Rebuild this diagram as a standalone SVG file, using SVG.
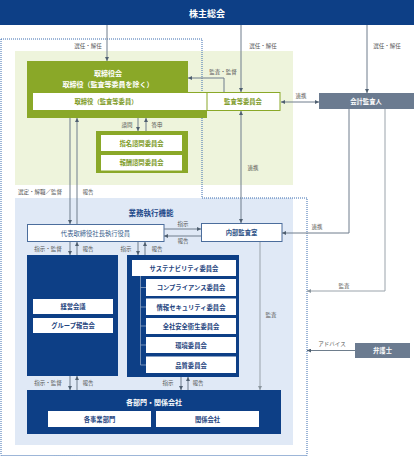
<svg xmlns="http://www.w3.org/2000/svg" width="414" height="457" viewBox="0 0 414 457">
<defs>
<marker id="ah" viewBox="0 0 6 6" refX="6" refY="3" markerWidth="4" markerHeight="4" markerUnits="userSpaceOnUse" orient="auto-start-reverse"><path d="M0,0 L6,3 L0,6 z" fill="#4f5f70"/></marker>
<marker id="ahl" viewBox="0 0 6 6" refX="6" refY="3" markerWidth="4" markerHeight="4" markerUnits="userSpaceOnUse" orient="auto-start-reverse"><path d="M0,0 L6,3 L0,6 z" fill="#8c979f"/></marker>
</defs>
<style>
text{font-family:"Noto Sans CJK JP","Noto Sans",sans-serif;text-anchor:middle;dominant-baseline:central}
.lbl{font-size:5.5px;fill:#555}
.wt{fill:#fff;font-weight:bold}
.ot{fill:#7d9a1f;font-size:6.3px;font-weight:bold}
.bt{fill:#1f4580;font-size:6.3px;font-weight:bold}
.wb{fill:#fff}
.ln{stroke:#6e7d8c;stroke-width:1;fill:none}
.lnl{stroke:#9aa3ab;stroke-width:1;fill:none}
.navy{fill:#0d3f86}
.olive{fill:#8aa828}
.slate{fill:#6b7b90}
</style>
<rect width="414" height="457" fill="#fff"/>
<!-- regions -->
<rect x="15" y="51" width="278" height="134" fill="#eef4dc"/>
<rect x="15" y="198" width="278" height="247" fill="#e0e9f6"/>
<path d="M1,39 H202 V198 H307 V455.5 H1 Z" fill="none" stroke="#3a6db0" stroke-width="1" stroke-dasharray="1 1"/>

<g id="kabunushi">
<rect x="0" y="0" width="414" height="25" class="navy"/>
<text x="207" y="13" class="wt" font-size="9">株主総会</text>
</g>

<g id="torishimariyakukai">
<path d="M27,61 H188 V92 H207 V118 H27 Z" class="olive"/>
<text x="108" y="73" class="wt" font-size="7">取締役会</text>
<text x="108" y="84" class="wt" font-size="7">取締役（監査等委員を除く）</text>
<rect x="33" y="93" width="174" height="17" class="wb"/>
<text x="106" y="101.5" class="ot">取締役（監査等委員）</text>
</g>

<g id="kansatou">
<rect x="207" y="92.5" width="73" height="18" fill="#fff" stroke="#8aa828" stroke-width="1"/>
<text x="243" y="101.5" class="ot">監査等委員会</text>
</g>

<g id="kaikei">
<rect x="319" y="93" width="95" height="16" class="slate"/>
<text x="366" y="101" class="wt" font-size="6.3">会計監査人</text>
</g>

<g id="shimon">
<rect x="96" y="131" width="92" height="42" class="olive"/>
<rect x="101" y="135" width="81" height="16" class="wb"/>
<text x="141.5" y="143" class="ot">指名諮問委員会</text>
<rect x="155" y="155" width="0" height="0"/>
<rect x="101" y="155" width="81" height="15.5" class="wb"/>
<text x="141.5" y="162.8" class="ot">報酬諮問委員会</text>
</g>

<g id="gyomu-title">
<text x="151" y="212" fill="#1f4a8a" font-size="7.5" font-weight="bold">業務執行機能</text>
</g>

<g id="daihyo">
<rect x="27.5" y="224.5" width="136.5" height="17" fill="#fff" stroke="#4b6d9c" stroke-width="1"/>
<text x="95.5" y="233" fill="#3b5f8e" font-size="6.3">代表取締役社長執行役員</text>
</g>

<g id="naibu">
<rect x="201.5" y="223.5" width="80.5" height="18" fill="#fff" stroke="#4b6d9c" stroke-width="1"/>
<text x="241.5" y="232.5" fill="#2b4f85" font-size="6.3" font-weight="bold">内部監査室</text>
</g>

<g id="left-box">
<rect x="27" y="255" width="91" height="121" class="navy"/>
<rect x="33" y="299" width="80" height="15" class="wb"/>
<text x="73" y="306.5" class="bt">経営会議</text>
<rect x="33" y="318" width="80" height="15" class="wb"/>
<text x="73" y="325.5" class="bt">グループ報告会</text>
</g>

<g id="committees">
<rect x="127" y="255" width="112" height="122" class="navy"/>
<path d="M140.5,276 V365 M140.5,287.5 H146 M140.5,307 H146 M140.5,326 H146 M140.5,345 H146 M140.5,365 H146" stroke="#8ea3c4" stroke-width="0.8" fill="none"/>
<rect x="132" y="260" width="104" height="16" class="wb"/>
<text x="184" y="268" class="bt">サステナビリティ委員会</text>
<rect x="146" y="279" width="90" height="17" class="wb"/>
<text x="191" y="287.5" class="bt">コンプライアンス委員会</text>
<rect x="146" y="298.5" width="90" height="16.5" class="wb"/>
<text x="191" y="307" class="bt">情報セキュリティ委員会</text>
<rect x="146" y="318" width="90" height="16" class="wb"/>
<text x="191" y="326" class="bt">全社安全衛生委員会</text>
<rect x="146" y="337" width="90" height="16" class="wb"/>
<text x="191" y="345" class="bt">環境委員会</text>
<rect x="146" y="356.5" width="90" height="16.5" class="wb"/>
<text x="191" y="365" class="bt">品質委員会</text>
</g>

<g id="kakubumon">
<rect x="27" y="390" width="254" height="44" class="navy"/>
<text x="154" y="402" class="wt" font-size="7">各部門・関係会社</text>
<rect x="48" y="411" width="103" height="16" class="wb"/>
<text x="99.5" y="419" class="bt">各事業部門</text>
<rect x="156" y="411" width="103" height="16" class="wb"/>
<text x="207.5" y="419" class="bt">関係会社</text>
</g>

<g id="bengoshi">
<rect x="355" y="343" width="55" height="15" class="slate"/>
<text x="382.5" y="350.5" class="wt" font-size="6.3">弁護士</text>
</g>

<g id="connectors">
<path class="ln" d="M107,25 V61" marker-end="url(#ah)"/>
<path class="ln" d="M241,25 V92" marker-end="url(#ah)"/>
<path class="ln" d="M367,25 V93" marker-end="url(#ah)"/>
<path class="ln" d="M224,92 V78 H188" marker-end="url(#ah)"/>
<path class="ln" d="M281,102 H319" marker-start="url(#ah)" marker-end="url(#ah)"/>
<path class="ln" d="M70,118 V224" marker-end="url(#ah)"/>
<path class="ln" d="M77,224 V118" marker-end="url(#ah)"/>
<path class="ln" d="M138,118 V131" marker-end="url(#ah)"/>
<path class="ln" d="M146,131 V118" marker-end="url(#ah)"/>
<path class="ln" d="M241,111 V223" marker-start="url(#ah)" marker-end="url(#ah)"/>
<path class="ln" d="M349,109 V233 H282" marker-end="url(#ah)"/>
<path class="lnl" d="M385,109 V291 H307" marker-end="url(#ahl)"/>
<path class="ln" d="M355,350.5 H307" marker-end="url(#ah)"/>
<path class="ln" d="M164,229 H201" marker-end="url(#ah)"/>
<path class="ln" d="M201,236 H164" marker-end="url(#ah)"/>
<path class="ln" d="M70,242 V255" marker-end="url(#ah)"/>
<path class="ln" d="M77,255 V242" marker-end="url(#ah)"/>
<path class="ln" d="M138,242 V255" marker-end="url(#ah)"/>
<path class="ln" d="M145,255 V242" marker-end="url(#ah)"/>
<path class="lnl" d="M260,242 V390" marker-end="url(#ahl)"/>
<path class="ln" d="M70,376 V390" marker-end="url(#ah)"/>
<path class="ln" d="M77,390 V376" marker-end="url(#ah)"/>
<path class="ln" d="M181,377 V390" marker-end="url(#ah)"/>
<path class="ln" d="M188,390 V377" marker-end="url(#ah)"/>
</g>

<g id="labels">
<text x="88" y="46" class="lbl">選任・解任</text>
<text x="263" y="46" class="lbl">選任・解任</text>
<text x="387" y="46" class="lbl">選任・解任</text>
<text x="223" y="72" class="lbl">監査・監督</text>
<text x="301" y="96" class="lbl">連携</text>
<text x="127" y="125" class="lbl">諮問</text>
<text x="157" y="125" class="lbl">答申</text>
<text x="253" y="168" class="lbl">連携</text>
<text x="40" y="192" class="lbl">選定・解職／監督</text>
<text x="88" y="192" class="lbl">報告</text>
<text x="183" y="224" class="lbl">指示</text>
<text x="183" y="241" class="lbl">報告</text>
<text x="317" y="227" class="lbl">連携</text>
<text x="344" y="286" class="lbl">監査</text>
<text x="271" y="315" class="lbl">監査</text>
<text x="332" y="344" class="lbl">アドバイス</text>
<text x="48" y="249" class="lbl">指示・監督</text>
<text x="88" y="249" class="lbl">報告</text>
<text x="126" y="249" class="lbl">指示</text>
<text x="157" y="249" class="lbl">報告</text>
<text x="48" y="383" class="lbl">指示・監督</text>
<text x="88" y="383" class="lbl">報告</text>
<text x="168" y="383" class="lbl">指示</text>
<text x="198" y="383" class="lbl">報告</text>
</g>
</svg>
